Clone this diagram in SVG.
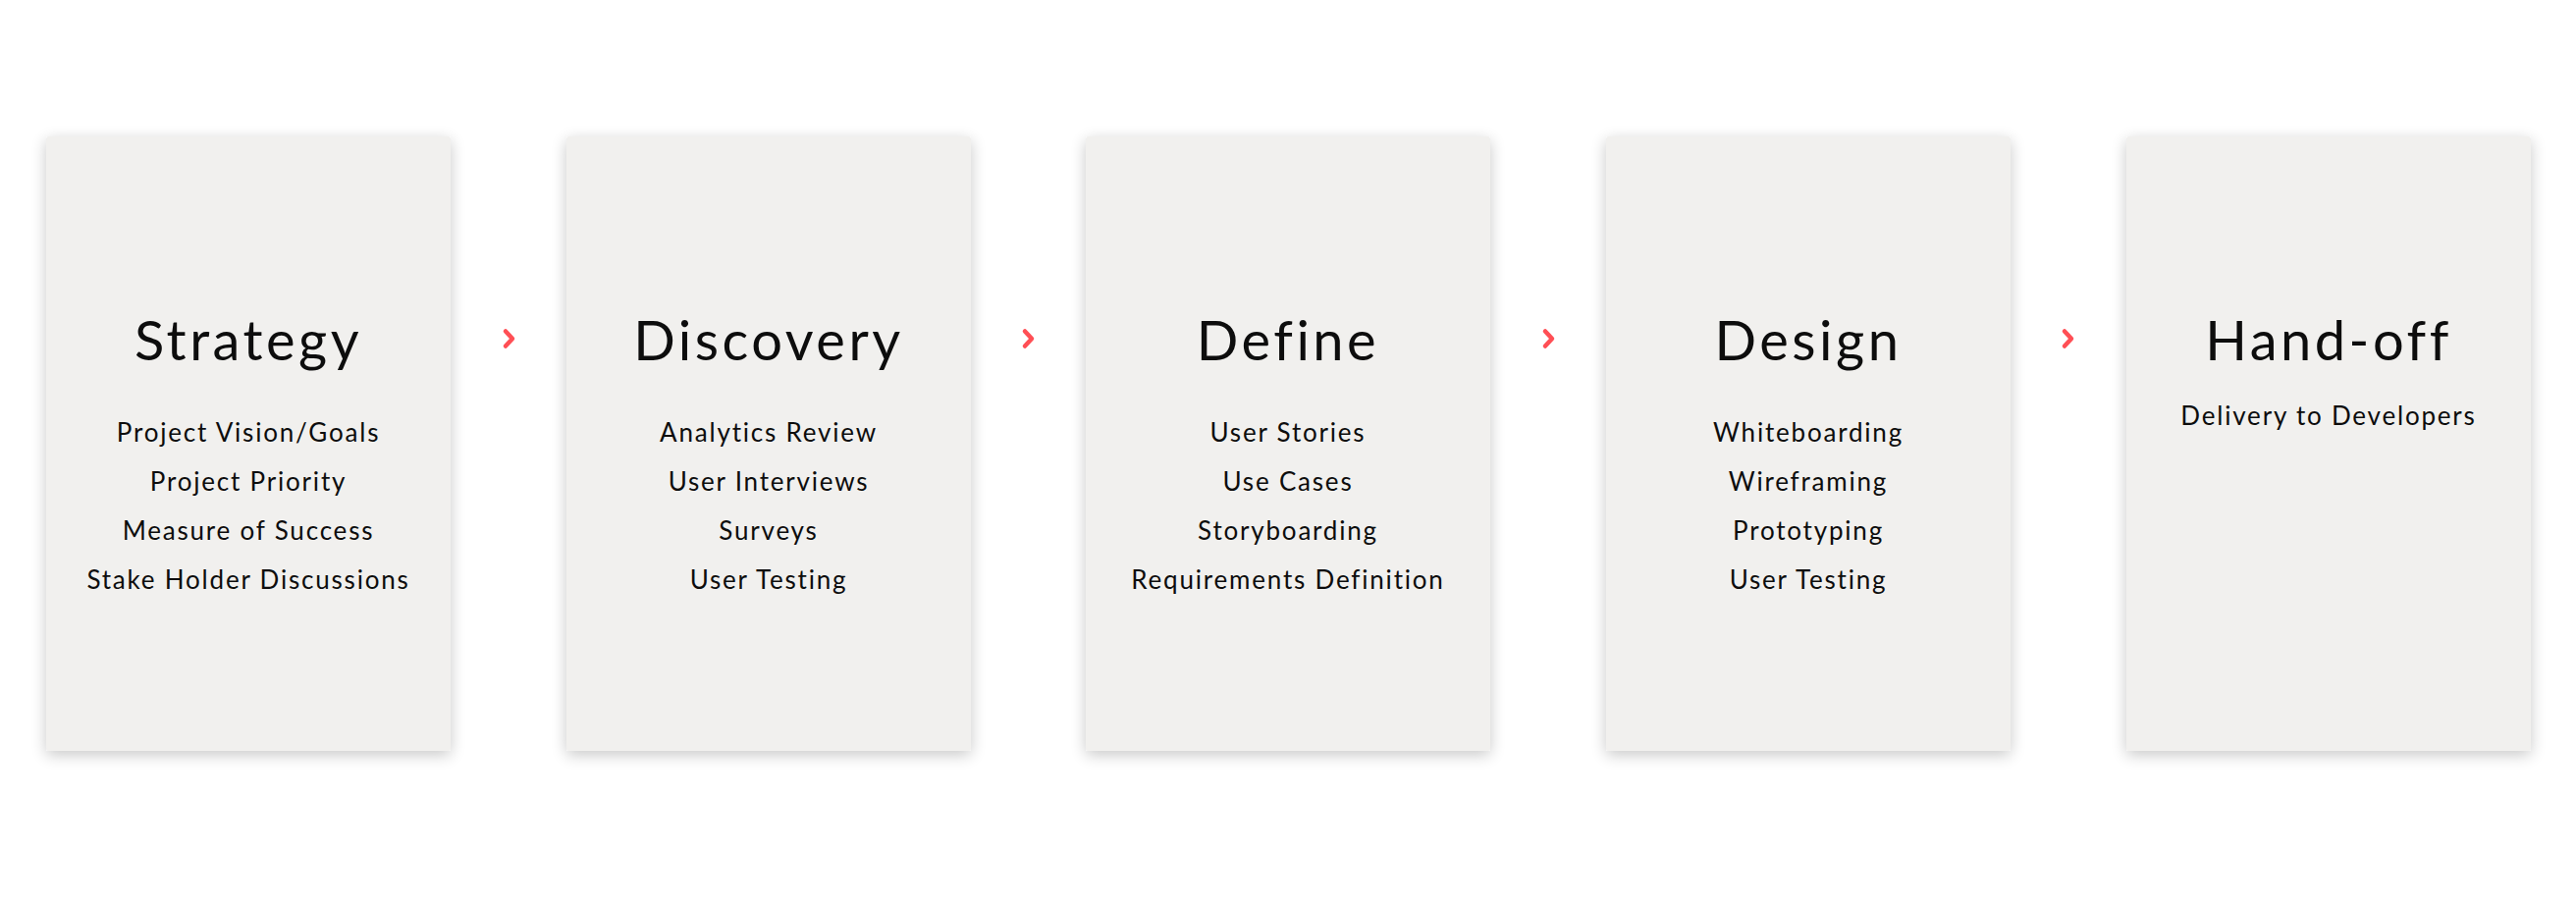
<svg xmlns="http://www.w3.org/2000/svg" width="2624" height="924" viewBox="0 0 2624 924">
<defs>
<filter id="sh" x="-10%" y="-10%" width="120%" height="125%">
<feGaussianBlur in="SourceAlpha" stdDeviation="8"/>
<feOffset dx="0" dy="4" result="b"/>
<feComponentTransfer><feFuncA type="linear" slope="0.22"/></feComponentTransfer>
<feMerge><feMergeNode/><feMergeNode in="SourceGraphic"/></feMerge>
</filter>
</defs>
<style>
.card{fill:#F1F0EE;filter:url(#sh)}
.t{font-family:Lato,"Open Sans",sans-serif;font-size:56px;fill:#0d0d0d;text-anchor:middle;letter-spacing:3.5px}
.i{font-family:Lato,"Open Sans",sans-serif;font-size:26px;fill:#0d0d0d;text-anchor:middle;letter-spacing:1.8px}
.arr{fill:none;stroke:#FF4F55;stroke-width:4.5;stroke-linecap:round;stroke-linejoin:round}
</style>
<rect width="2624" height="924" fill="#fff"/>
<g id="strategy">
<rect class="card" x="47" y="139" width="412" height="626" rx="3"/>
<text class="t" x="253" y="367">Strategy</text>
<text class="i" x="253" y="450">Project Vision/Goals</text>
<text class="i" x="253" y="500">Project Priority</text>
<text class="i" x="253" y="550">Measure of Success</text>
<text class="i" x="253" y="600">Stake Holder Discussions</text>
</g>
<g id="discovery">
<rect class="card" x="577" y="139" width="412" height="626" rx="3"/>
<text class="t" x="783" y="367">Discovery</text>
<text class="i" x="783" y="450">Analytics Review</text>
<text class="i" x="783" y="500">User Interviews</text>
<text class="i" x="783" y="550">Surveys</text>
<text class="i" x="783" y="600">User Testing</text>
</g>
<g id="define">
<rect class="card" x="1106" y="139" width="412" height="626" rx="3"/>
<text class="t" x="1312" y="367">Define</text>
<text class="i" x="1312" y="450">User Stories</text>
<text class="i" x="1312" y="500">Use Cases</text>
<text class="i" x="1312" y="550">Storyboarding</text>
<text class="i" x="1312" y="600">Requirements Definition</text>
</g>
<g id="design">
<rect class="card" x="1636" y="139" width="412" height="626" rx="3"/>
<text class="t" x="1842" y="367">Design</text>
<text class="i" x="1842" y="450">Whiteboarding</text>
<text class="i" x="1842" y="500">Wireframing</text>
<text class="i" x="1842" y="550">Prototyping</text>
<text class="i" x="1842" y="600">User Testing</text>
</g>
<g id="handoff">
<rect class="card" x="2166" y="139" width="412" height="626" rx="3"/>
<text class="t" x="2372" y="367">Hand-off</text>
<text class="i" x="2372" y="433">Delivery to Developers</text>
</g>
<g id="connectors">
<path class="arr" d="M515 337.5 L522 345 L515 352.5"/>
<path class="arr" d="M1044 337.5 L1051 345 L1044 352.5"/>
<path class="arr" d="M1574 337.5 L1581 345 L1574 352.5"/>
<path class="arr" d="M2103 337.5 L2110 345 L2103 352.5"/>
</g>
</svg>
